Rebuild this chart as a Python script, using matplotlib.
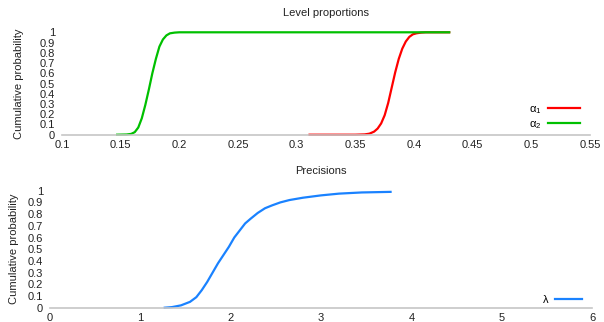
import matplotlib
matplotlib.use('Agg')
import matplotlib.pyplot as plt

plt.rcParams['font.family'] = ['Liberation Sans', 'DejaVu Sans']
plt.rcParams['mathtext.fontset'] = 'custom'
plt.rcParams['mathtext.rm'] = 'Liberation Sans'

# alpha_1 (red) cdf
a1_x = [0.311, 0.35, 0.358, 0.362, 0.366, 0.369, 0.372, 0.375, 0.378, 0.381, 0.384, 0.387,
        0.390, 0.393, 0.396, 0.399, 0.402, 0.406, 0.41, 0.43]
a1_y = [0.0, 0.0, 0.003, 0.01, 0.03, 0.06, 0.11, 0.19, 0.31, 0.46, 0.61, 0.74,
        0.84, 0.91, 0.955, 0.98, 0.99, 0.997, 1.0, 1.0]
# alpha_2 (green) cdf
a2_x = [0.147, 0.155, 0.159, 0.162, 0.165, 0.168, 0.171, 0.174, 0.177, 0.180, 0.183,
        0.186, 0.189, 0.192, 0.196, 0.200, 0.43]
a2_y = [0.0, 0.002, 0.008, 0.025, 0.07, 0.16, 0.29, 0.44, 0.6, 0.74, 0.86,
        0.93, 0.97, 0.99, 0.997, 1.0, 1.0]
# lambda (blue) cdf
lam_x = [1.27, 1.35, 1.45, 1.55, 1.62, 1.68, 1.74, 1.8, 1.86, 1.92, 1.98, 2.04, 2.1,
         2.16, 2.22, 2.3, 2.38, 2.46, 2.55, 2.65, 2.8, 3.0, 3.2, 3.45, 3.77]
lam_y = [0.0, 0.005, 0.02, 0.05, 0.09, 0.15, 0.22, 0.3, 0.38, 0.45, 0.52, 0.6, 0.66,
         0.72, 0.76, 0.81, 0.85, 0.875, 0.9, 0.92, 0.94, 0.96, 0.975, 0.985, 0.99]

top_xticks = [0.1, 0.15, 0.2, 0.25, 0.3, 0.35, 0.4, 0.45, 0.5, 0.55]
bot_xticks = [0, 1, 2, 3, 4, 5, 6]
yticks = [0, 0.1, 0.2, 0.3, 0.4, 0.5, 0.6, 0.7, 0.8, 0.9, 1]

fs = 8
fig = plt.figure(figsize=(6.04, 3.22), dpi=100)


def style(ax, xticks, xlim, title):
    ax.set_xlim(*xlim)
    ax.set_ylim(0, 1)
    for s in ['top', 'right', 'left']:
        ax.spines[s].set_visible(False)
    ax.spines['bottom'].set_color('#c6c6c6')
    ax.spines['bottom'].set_linewidth(1.2)
    ax.set_xticks(xticks)
    ax.set_xticklabels(['{:g}'.format(t) for t in xticks])
    ax.set_yticks(yticks)
    ax.set_yticklabels(['{:g}'.format(t) for t in yticks])
    ax.tick_params(length=0, labelsize=fs, colors='#222222', pad=4)
    ax.tick_params(axis='y', pad=5)
    ax.set_ylabel('Cumulative probability', fontsize=fs, color='#222222')
    ax.set_title(title, fontsize=fs, color='#222222', pad=12)


ax1 = fig.add_axes([62 / 604, (322 - 134.7) / 322, 528 / 604, 102.4 / 322])
style(ax1, top_xticks, (0.1, 0.55), 'Level proportions')
ax1.plot(a1_x, a1_y, color='#ff0000', lw=1.6, label=r'$\mathregular{\alpha_1}$', clip_on=False)
ax1.plot(a2_x, a2_y, color='#00c000', lw=1.6, label=r'$\mathregular{\alpha_2}$', clip_on=False)
ax1.yaxis.set_label_coords(-0.072, 0.5)
ax1.legend(loc='lower right', bbox_to_anchor=(1.0, -0.06), frameon=False, markerfirst=False,
           fontsize=fs, handlelength=2.9, handletextpad=0.6, labelspacing=0.3)

ax2 = fig.add_axes([50 / 604, (322 - 307.7) / 322, 542 / 604, 117 / 322])
style(ax2, bot_xticks, (0, 6), 'Precisions')
ax2.plot(lam_x, lam_y, color='#1a82ff', lw=1.6, label='λ', clip_on=False)
ax2.yaxis.set_label_coords(-0.058, 0.5)
ax2.legend(loc='lower right', bbox_to_anchor=(1.0, -0.06), frameon=False, markerfirst=False,
           fontsize=fs, handlelength=2.4, handletextpad=0.6)

fig.savefig('out.png', dpi=100)
